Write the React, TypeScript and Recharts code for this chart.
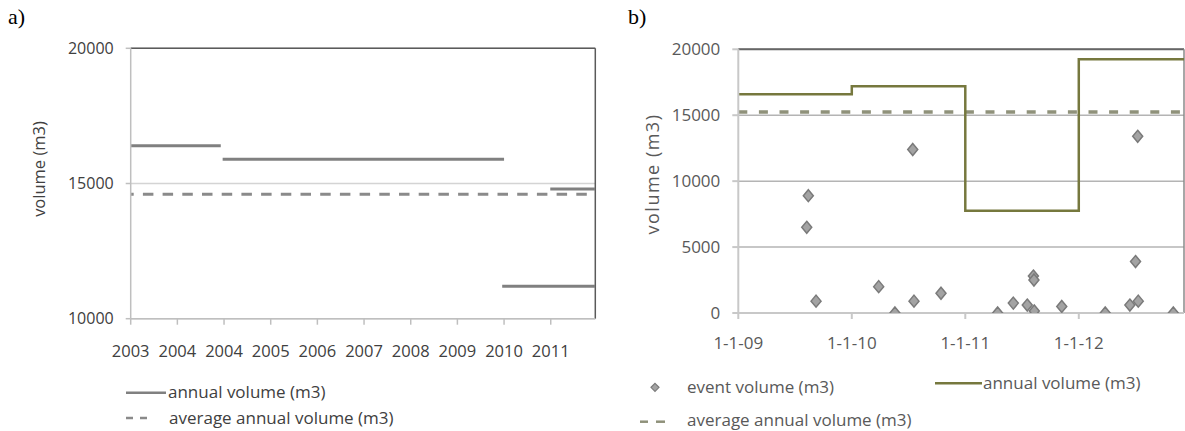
import React from 'react';
import {
  ComposedChart,
  Line,
  Scatter,
  XAxis,
  YAxis,
  CartesianGrid,
  ReferenceLine,
} from 'recharts';

// panel a
const tickPosA = [0, 1, 2, 3, 4, 5, 6, 7, 8, 9];
const tickLabelsA = ['2003', '2004', '2004', '2005', '2006', '2007', '2008', '2009', '2010', '2011'];
const xMaxA = 9.955;
const annualStartA = [0, 1.97, 7.96, 8.99];
const annualEndA = [1.93, 8.0, xMaxA, xMaxA];
const annualVolumeA = [16400, 15900, 11200, 14800];
const averageVolumeA = 14600;
const yTicksA = [10000, 15000, 20000];

// panel b
const eventDatesB = [
  2009.603, 2009.617, 2009.685, 2010.237, 2010.38, 2010.537, 2010.548, 2010.786,
  2011.285, 2011.423, 2011.546, 2011.6, 2011.605, 2011.608, 2011.85,
  2012.233, 2012.45, 2012.5, 2012.519, 2012.524, 2012.833,
];
const eventVolumesB = [
  6500, 8900, 900, 2000, 0, 12400, 900, 1500,
  0, 750, 600, 2800, 2500, 150, 500,
  0, 600, 3900, 13400, 900, 0,
];
const xMaxB = 2012.927;
const annualYearsB = [2009, 2010, 2011, 2012, xMaxB];
const annualVolumeB = [16600, 17200, 7750, 19250, 19250];
const averageVolumeB = 15250;
const tickPosB = [2009, 2010, 2011, 2012];
const tickLabelsB = ['1-1-09', '1-1-10', '1-1-11', '1-1-12'];
const yTicksB = [0, 5000, 10000, 15000, 20000];

const FONT = "'Open Sans', sans-serif";
const GREY_LINE = '#808080';
const OLIVE = '#76783e';
const AVG_B = '#8f917a';

const segmentsA = annualVolumeA.map((v, i) => [
  { x: annualStartA[i], y: v },
  { x: annualEndA[i], y: v },
]);
const averageA = [
  { x: 0, y: averageVolumeA },
  { x: xMaxA, y: averageVolumeA },
];

const eventsB = eventDatesB.map((x, i) => ({ x, y: eventVolumesB[i] }));
const annualB = annualYearsB.map((x, i) => ({ x, y: annualVolumeB[i] }));
const averageB = [
  { x: 2009, y: averageVolumeB },
  { x: xMaxB, y: averageVolumeB },
];

function Diamond(props: any) {
  const { cx, cy } = props;
  if (cx == null || cy == null) return null;
  return (
    <path
      d={`M${cx},${cy - 6} L${cx + 5},${cy} L${cx},${cy + 6} L${cx - 5},${cy} Z`}
      fill="#a3a3a3"
      stroke="#7a7a7a"
      strokeWidth={1.5}
    />
  );
}

function ChartA() {
  return (
    <ComposedChart
      width={600}
      height={431}
      margin={{ top: 48.3, right: 4.7, bottom: 72.3, left: 0 }}
    >
      <CartesianGrid horizontal vertical={false} stroke="#d4d4d4" strokeWidth={1.5} />
      <XAxis
        type="number"
        dataKey="x"
        domain={[0, xMaxA]}
        ticks={tickPosA}
        interval={0}
        allowDataOverflow
        tickFormatter={(v: number) => tickLabelsA[v]}
        height={40}
        stroke="#bfbfbf"
        strokeWidth={1.5}
        tickSize={6}
        tickMargin={20.5}
        tick={{ fill: '#404040', fontSize: 16.5, fontFamily: FONT }}
      />
      <YAxis
        type="number"
        dataKey="y"
        domain={[10000, 20000]}
        ticks={yTicksA}
        interval={0}
        allowDataOverflow
        width={130.7}
        stroke="#bfbfbf"
        strokeWidth={1.5}
        tickSize={5}
        tickMargin={12}
        tick={{ fill: '#404040', fontSize: 16, fontFamily: FONT }}
      />
      <ReferenceLine y={20000} stroke="#5a5a5a" strokeWidth={1.5} />
      <ReferenceLine x={xMaxA} stroke="#5a5a5a" strokeWidth={1.5} />
      {segmentsA.map((seg, i) => (
        <Line
          key={i}
          data={seg}
          dataKey="y"
          stroke={GREY_LINE}
          strokeWidth={3}
          dot={false}
          isAnimationActive={false}
        />
      ))}
      <Line
        data={averageA}
        dataKey="y"
        stroke="#8a8a8a"
        strokeWidth={3}
        strokeDasharray="10.5 9.2"
        strokeDashoffset={7.5}
        dot={false}
        isAnimationActive={false}
      />
    </ComposedChart>
  );
}

function ChartB() {
  return (
    <ComposedChart
      width={585}
      height={431}
      margin={{ top: 49.3, right: 1, bottom: 78, left: 0 }}
    >
      <CartesianGrid horizontal vertical={false} stroke="#b4b4b4" strokeWidth={1.5} />
      <XAxis
        type="number"
        dataKey="x"
        domain={[2009, xMaxB]}
        ticks={tickPosB}
        interval={0}
        allowDataOverflow
        tickFormatter={(v: number) => tickLabelsB[tickPosB.indexOf(v)]}
        height={40}
        stroke="#c8c8c8"
        strokeWidth={2}
        tickSize={6}
        tickMargin={18}
        tick={{ fill: '#595959', fontSize: 17, fontFamily: FONT }}
      />
      <YAxis
        type="number"
        dataKey="y"
        domain={[0, 20000]}
        ticks={yTicksB}
        interval={0}
        allowDataOverflow
        width={138.3}
        stroke="#c8c8c8"
        strokeWidth={2}
        tickSize={6}
        tickMargin={12}
        tick={{ fill: '#595959', fontSize: 17, fontFamily: FONT }}
      />
      <ReferenceLine y={20000} stroke="#666666" strokeWidth={2} />
      <ReferenceLine x={xMaxB} stroke="#8a8a8a" strokeWidth={1.5} />
      <Line
        data={averageB}
        dataKey="y"
        stroke={AVG_B}
        strokeWidth={3.5}
        strokeDasharray="9 11.6"
        dot={false}
        isAnimationActive={false}
      />
      <Line
        data={annualB}
        dataKey="y"
        type="stepAfter"
        stroke={OLIVE}
        strokeWidth={2.5}
        dot={false}
        isAnimationActive={false}
      />
      <Scatter data={eventsB} dataKey="y" shape={Diamond} isAnimationActive={false} />
    </ComposedChart>
  );
}

const abs = (left: number, top: number): React.CSSProperties => ({
  position: 'absolute',
  left,
  top,
  whiteSpace: 'nowrap',
});

const legendText = (left: number, mid: number, size: number, color: string): React.CSSProperties => ({
  ...abs(left, mid - size * 0.6),
  fontFamily: FONT,
  fontSize: size,
  lineHeight: `${Math.round(size * 1.2)}px`,
  color,
});

export default function App() {
  return (
    <div
      style={{
        position: 'absolute',
        left: 0,
        top: 0,
        width: 1185,
        height: 431,
        background: '#ffffff',
        overflow: 'hidden',
      }}
    >
      <div style={{ ...abs(0, 0) }}>
        <ChartA />
      </div>
      <div style={{ ...abs(600, 0) }}>
        <ChartB />
      </div>

      {/* panel letters */}
      <div style={{ ...abs(8, 4), fontFamily: "'Liberation Serif', serif", fontSize: 22, color: '#000' }}>a)</div>
      <div style={{ ...abs(628, 4), fontFamily: "'Liberation Serif', serif", fontSize: 22, color: '#000' }}>b)</div>

      {/* y-axis titles */}
      <div
        style={{
          ...abs(38, 169),
          transform: 'translate(-50%, -50%) rotate(-90deg)',
          fontFamily: FONT,
          fontSize: 16.5,
          color: '#404040',
        }}
      >
        volume (m3)
      </div>
      <div
        style={{
          ...abs(651.5, 174),
          transform: 'translate(-50%, -50%) rotate(-90deg)',
          fontFamily: FONT,
          fontSize: 18,
          letterSpacing: 1.5,
          color: '#595959',
        }}
      >
        volume (m3)
      </div>

      {/* legend a */}
      <svg style={abs(120, 380)} width={50} height={50}>
        <line x1={6} x2={46} y1={12.7} y2={12.7} stroke={GREY_LINE} strokeWidth={2.5} />
        <line x1={6} x2={13} y1={38} y2={38} stroke="#8a8a8a" strokeWidth={2.5} />
        <line x1={20} x2={27} y1={38} y2={38} stroke="#8a8a8a" strokeWidth={2.5} />
      </svg>
      <div style={legendText(168, 392, 17, '#404040')}>annual volume (m3)</div>
      <div style={legendText(169, 418, 17, '#404040')}>average annual volume (m3)</div>

      {/* legend b */}
      <svg style={abs(636, 372)} width={40} height={60}>
        <path d="M19,11.3 L23,15.3 L19,19.3 L15,15.3 Z" fill="#a3a3a3" stroke="#7a7a7a" strokeWidth={1.2} />
        <line x1={4} x2={12} y1={49.7} y2={49.7} stroke={AVG_B} strokeWidth={2.5} />
        <line x1={20} x2={29} y1={49.7} y2={49.7} stroke={AVG_B} strokeWidth={2.5} />
      </svg>
      <svg style={abs(930, 375)} width={60} height={20}>
        <line x1={5} x2={52} y1={8.3} y2={8.3} stroke={OLIVE} strokeWidth={2.5} />
      </svg>
      <div style={legendText(687, 387, 17, '#595959')}>event volume (m3)</div>
      <div style={legendText(983, 383, 17, '#595959')}>annual volume (m3)</div>
      <div style={legendText(687, 420.5, 17, '#595959')}>average annual volume (m3)</div>
    </div>
  );
}
